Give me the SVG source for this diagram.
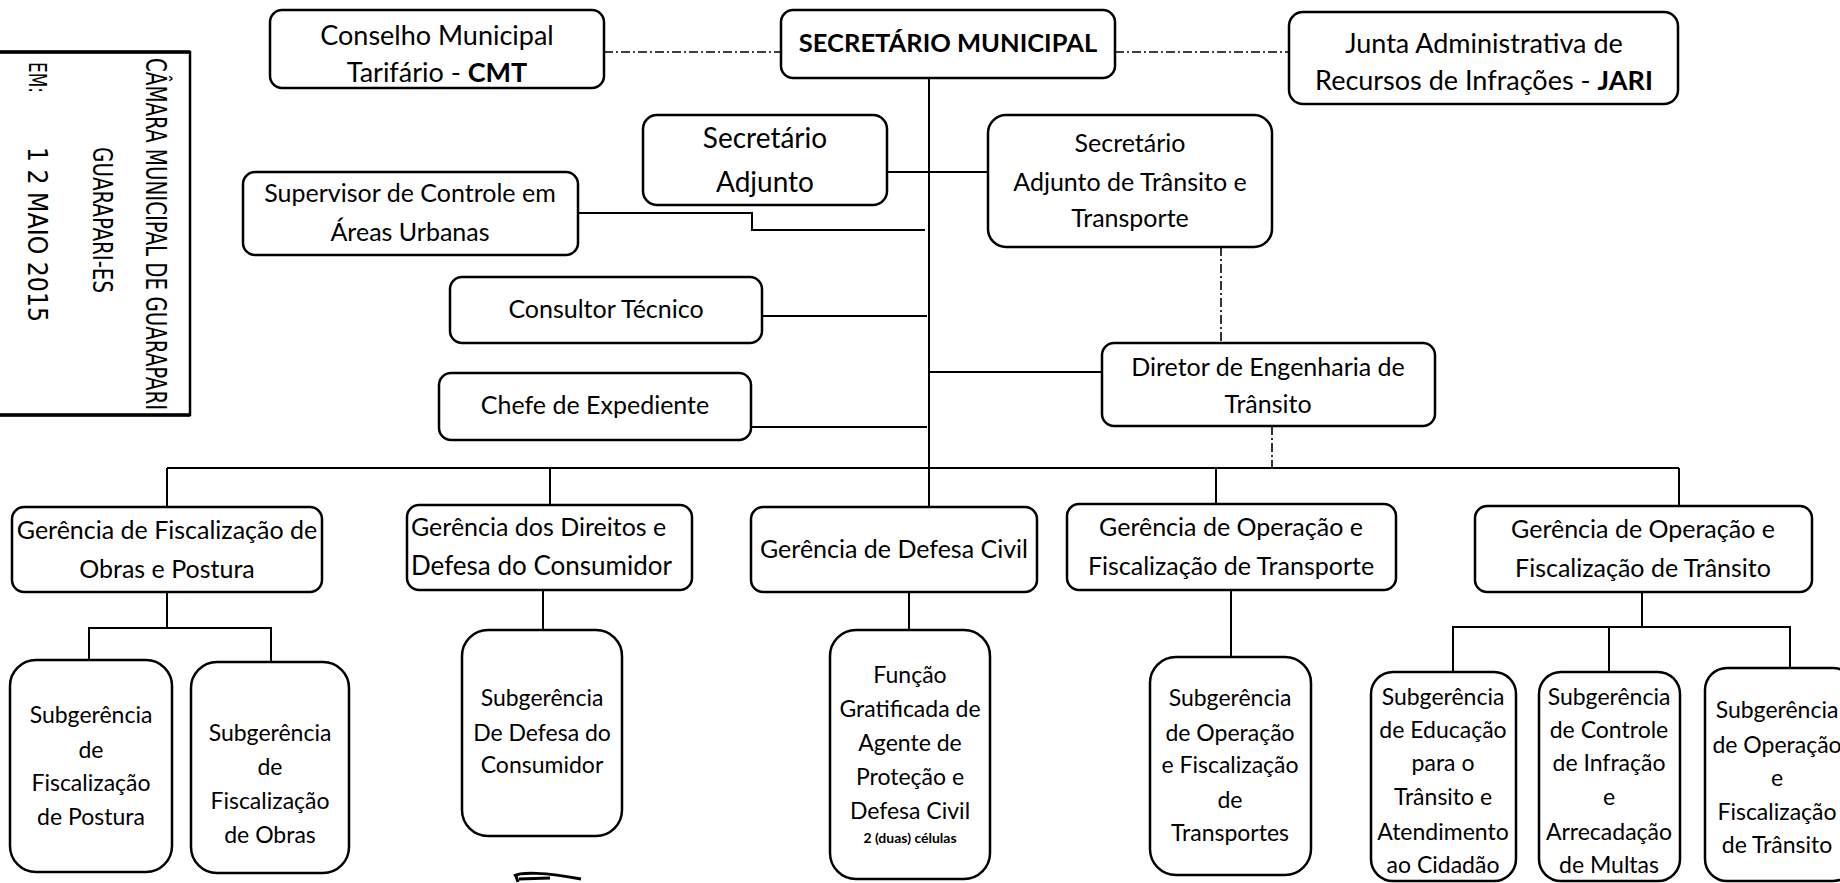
<svg xmlns="http://www.w3.org/2000/svg" width="1840" height="883" viewBox="0 0 1840 883">
<style>
.box{fill:#fff;stroke:#000;stroke-width:2.5}
.ln{fill:none;stroke:#000;stroke-width:2}
.dd{fill:none;stroke:#000;stroke-width:1.6;stroke-dasharray:9 3 2 3}
text{font-family:Lato,"Liberation Sans",sans-serif;font-size:25px;fill:#000}
.c{text-anchor:middle}
.b{font-weight:bold}
.l{font-size:27px}
.xl{font-size:28px}
.h{font-size:25.5px}
.s{font-size:23px}
.xs{font-size:14px}
.st{font-family:"DejaVu Sans Condensed","DejaVu Sans",sans-serif;font-stretch:condensed}
</style>
<rect width="1840" height="883" fill="#fff"/>

<g id="stamp">
<rect x="-6" y="52" width="196" height="363" fill="none" stroke="#000" stroke-width="2.5"/>
<line x1="0" y1="52" x2="190" y2="52" stroke="#000" stroke-width="3.5"/>
<line x1="0" y1="415" x2="190" y2="415" stroke="#000" stroke-width="3.5"/>
<text class="st" transform="translate(146,58) rotate(90)" style="font-size:28px" textLength="352" lengthAdjust="spacingAndGlyphs">CÂMARA MUNICIPAL DE GUARAPARI</text>
<text class="st" transform="translate(93,147) rotate(90)" style="font-size:26px" textLength="146" lengthAdjust="spacingAndGlyphs">GUARAPARI-ES</text>
<text class="st" transform="translate(29,62) rotate(90)" style="font-size:24px" textLength="31" lengthAdjust="spacingAndGlyphs">EM:</text>
<text class="st" transform="translate(28,147) rotate(90)" style="font-size:27px" textLength="175" lengthAdjust="spacingAndGlyphs">1 2 MAIO 2015</text>
</g>

<g id="connectors">
<line class="dd" x1="604" y1="52" x2="781" y2="52"/>
<line class="dd" x1="1115" y1="52" x2="1289" y2="52"/>
<line class="ln" x1="929" y1="78" x2="929" y2="507"/>
<line class="ln" x1="887" y1="172" x2="988" y2="172"/>
<polyline class="ln" points="578,213 752,213 752,230 925,230"/>
<line class="ln" x1="762" y1="316" x2="927" y2="316"/>
<line class="ln" x1="751" y1="427" x2="927" y2="427"/>
<line class="ln" x1="929" y1="372" x2="1102" y2="372"/>
<line class="dd" x1="1221" y1="247" x2="1221" y2="343"/>
<line class="dd" x1="1272" y1="426" x2="1272" y2="468"/>
<line class="ln" x1="167" y1="468" x2="1679" y2="468"/>
<line class="ln" x1="167" y1="468" x2="167" y2="507"/>
<line class="ln" x1="550" y1="468" x2="550" y2="505"/>
<line class="ln" x1="1216" y1="468" x2="1216" y2="504"/>
<line class="ln" x1="1679" y1="468" x2="1679" y2="506"/>
<line class="ln" x1="167" y1="592" x2="167" y2="628"/>
<polyline class="ln" points="89,660 89,628 271,628 271,662"/>
<line class="ln" x1="543" y1="590" x2="543" y2="630"/>
<line class="ln" x1="909" y1="592" x2="909" y2="630"/>
<line class="ln" x1="1231" y1="590" x2="1231" y2="657"/>
<line class="ln" x1="1642" y1="592" x2="1642" y2="627"/>
<polyline class="ln" points="1453,672 1453,627 1790,627 1790,668"/>
<line class="ln" x1="1609" y1="627" x2="1609" y2="672"/>
</g>

<g id="n-cmt">
<rect class="box" x="270" y="10" width="334" height="78" rx="12"/>
<text class="c l" x="437" y="45">Conselho Municipal</text>
<text class="c l" x="437" y="82">Tarifário - <tspan class="b">CMT</tspan></text>
</g>
<g id="n-secretario">
<rect class="box" x="781" y="10" width="334" height="68" rx="12"/>
<text class="c b h" x="948" y="52">SECRETÁRIO MUNICIPAL</text>
</g>
<g id="n-jari">
<rect class="box" x="1289" y="12" width="389" height="92" rx="14"/>
<text class="c l" x="1484" y="53">Junta Administrativa de</text>
<text class="c l" x="1484" y="90">Recursos de Infrações - <tspan class="b">JARI</tspan></text>
</g>
<g id="n-adjunto">
<rect class="box" x="643" y="115" width="244" height="90" rx="14"/>
<text class="c xl" x="765" y="148">Secretário</text>
<text class="c xl" x="765" y="192">Adjunto</text>
</g>
<g id="n-att">
<rect class="box" x="988" y="115" width="284" height="132" rx="18"/>
<text class="c" x="1130" y="152">Secretário</text>
<text class="c" x="1130" y="191">Adjunto de Trânsito e</text>
<text class="c" x="1130" y="227">Transporte</text>
</g>
<g id="n-supervisor">
<rect class="box" x="243" y="172" width="335" height="83" rx="12"/>
<text class="c" x="410" y="202">Supervisor de Controle em</text>
<text class="c" x="410" y="241">Áreas Urbanas</text>
</g>
<g id="n-consultor">
<rect class="box" x="450" y="277" width="312" height="66" rx="12"/>
<text class="c" x="606" y="318">Consultor Técnico</text>
</g>
<g id="n-chefe">
<rect class="box" x="439" y="373" width="312" height="67" rx="12"/>
<text class="c" x="595" y="414">Chefe de Expediente</text>
</g>
<g id="n-diretor">
<rect class="box" x="1102" y="343" width="333" height="83" rx="12"/>
<text class="c" x="1268" y="376">Diretor de Engenharia de</text>
<text class="c" x="1268" y="413">Trânsito</text>
</g>

<g id="n-g-obras">
<rect class="box" x="12" y="507" width="310" height="85" rx="12"/>
<text class="c" x="167" y="539">Gerência de Fiscalização de</text>
<text class="c" x="167" y="578">Obras e Postura</text>
</g>
<g id="n-g-consumidor">
<rect class="box" x="407" y="505" width="285" height="85" rx="12"/>
<text x="411" y="536">Gerência dos Direitos e</text>
<text x="411" y="575" style="font-size:26px">Defesa do Consumidor</text>
</g>
<g id="n-g-defesa">
<rect class="box" x="751" y="507" width="286" height="85" rx="12"/>
<text class="c" x="894" y="558">Gerência de Defesa Civil</text>
</g>
<g id="n-g-transporte">
<rect class="box" x="1067" y="504" width="329" height="86" rx="12"/>
<text class="c" x="1231" y="536">Gerência de Operação e</text>
<text class="c" x="1231" y="575">Fiscalização de Transporte</text>
</g>
<g id="n-g-transito">
<rect class="box" x="1475" y="506" width="337" height="86" rx="12"/>
<text class="c" x="1643" y="538">Gerência de Operação e</text>
<text class="c" x="1643" y="577">Fiscalização de Trânsito</text>
</g>

<g id="n-s-postura">
<rect class="box" x="10" y="660" width="162" height="212" rx="26"/>
<text class="c s" x="91" y="723">Subgerência</text>
<text class="c s" x="91" y="758">de</text>
<text class="c s" x="91" y="791">Fiscalização</text>
<text class="c s" x="91" y="825">de Postura</text>
</g>
<g id="n-s-obras">
<rect class="box" x="191" y="662" width="158" height="211" rx="26"/>
<text class="c s" x="270" y="741">Subgerência</text>
<text class="c s" x="270" y="775">de</text>
<text class="c s" x="270" y="809">Fiscalização</text>
<text class="c s" x="270" y="843">de Obras</text>
</g>
<g id="n-s-consumidor">
<rect class="box" x="462" y="630" width="160" height="206" rx="26"/>
<text class="c s" x="542" y="706">Subgerência</text>
<text class="c s" x="542" y="741">De Defesa do</text>
<text class="c s" x="542" y="773">Consumidor</text>
</g>
<g id="n-s-defesa">
<rect class="box" x="830" y="630" width="160" height="249" rx="26"/>
<text class="c s" x="910" y="683">Função</text>
<text class="c s" x="910" y="717">Gratificada de</text>
<text class="c s" x="910" y="751">Agente de</text>
<text class="c s" x="910" y="785">Proteção e</text>
<text class="c s" x="910" y="819">Defesa Civil</text>
<text class="c b xs" x="910" y="843">2 (duas) células</text>
</g>
<g id="n-s-transportes">
<rect class="box" x="1150" y="657" width="161" height="218" rx="26"/>
<text class="c s" x="1230" y="706">Subgerência</text>
<text class="c s" x="1230" y="741">de Operação</text>
<text class="c s" x="1230" y="773">e Fiscalização</text>
<text class="c s" x="1230" y="808">de</text>
<text class="c s" x="1230" y="841">Transportes</text>
</g>
<g id="n-s-educacao">
<rect class="box" x="1371" y="672" width="145" height="209" rx="22"/>
<text class="c s" x="1443" y="705">Subgerência</text>
<text class="c s" x="1443" y="738">de Educação</text>
<text class="c s" x="1443" y="771">para o</text>
<text class="c s" x="1443" y="805">Trânsito e</text>
<text class="c s" x="1443" y="840">Atendimento</text>
<text class="c s" x="1443" y="873">ao Cidadão</text>
</g>
<g id="n-s-multas">
<rect class="box" x="1539" y="672" width="141" height="209" rx="22"/>
<text class="c s" x="1609" y="705">Subgerência</text>
<text class="c s" x="1609" y="738">de Controle</text>
<text class="c s" x="1609" y="771">de Infração</text>
<text class="c s" x="1609" y="805">e</text>
<text class="c s" x="1609" y="840">Arrecadação</text>
<text class="c s" x="1609" y="873">de Multas</text>
</g>
<g id="n-s-transito">
<rect class="box" x="1705" y="668" width="150" height="213" rx="22"/>
<text class="c s" x="1777" y="718">Subgerência</text>
<text class="c s" x="1777" y="753">de Operação</text>
<text class="c s" x="1777" y="786">e</text>
<text class="c s" x="1777" y="820">Fiscalização</text>
<text class="c s" x="1777" y="853">de Trânsito</text>
</g>

<path d="M514,876 C520,872 545,872 581,879 M516,876 L518,882 M519,879 L550,878" fill="none" stroke="#000" stroke-width="3"/>
</svg>
